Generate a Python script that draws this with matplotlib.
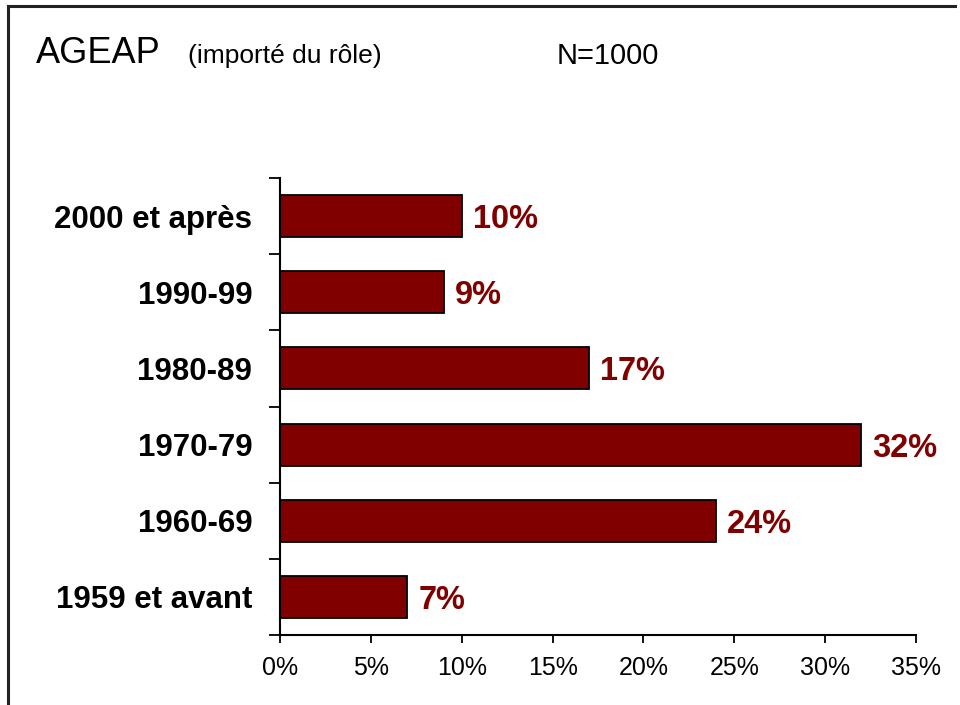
import matplotlib
matplotlib.use("Agg")
import matplotlib.pyplot as plt
from matplotlib.lines import Line2D

plt.rcParams['font.family'] = ['Liberation Sans', 'DejaVu Sans']

# data (bottom to top)
categories = ["1959 et avant", "1960-69", "1970-79", "1980-89", "1990-99", "2000 et après"]
values = [7, 24, 32, 17, 9, 10]
xticks = [0, 5, 10, 15, 20, 25, 30, 35]

bar_color = "#800000"

fig = plt.figure(figsize=(9.6, 7.05), dpi=100)
ax = fig.add_axes([280/960, 1-635/705, 636/960, (635-178)/705])

pos = list(range(len(categories)))
ax.barh(pos, values, height=0.55, color=bar_color, edgecolor="black", linewidth=1.3)

# value labels next to bars
for p, v in zip(pos, values):
    ax.annotate(f"{v}%", (v, p), xytext=(8, 0), textcoords="offset points",
                va="center_baseline", ha="left", fontsize=23.5, fontweight="bold", color=bar_color)

ax.set_xlim(0, 35)
ax.set_ylim(-0.5, 5.5)
ax.set_xticks(xticks)
ax.set_xticklabels([f"{t}%" for t in xticks], fontsize=18)
ax.set_yticks(pos)
ax.set_yticklabels(categories, fontsize=22.5, fontweight="bold")
ax.set_yticks([i - 0.5 for i in range(len(categories) + 1)], minor=True)
ax.tick_params(axis="y", which="major", length=0, pad=20)
ax.tick_params(axis="y", which="minor", length=8, width=1.3, direction="out")
ax.tick_params(axis="x", length=6, width=1.3, direction="out", pad=9)

for s in ["top", "right"]:
    ax.spines[s].set_visible(False)
for s in ["left", "bottom"]:
    ax.spines[s].set_linewidth(1.5)

# frame lines
fig.add_artist(Line2D([8/960, 8/960], [0, 1-6/705], color="#222222", lw=2.2, transform=fig.transFigure))
fig.add_artist(Line2D([8/960, 955/960], [1-6/705, 1-6/705], color="#222222", lw=2.2, transform=fig.transFigure))

# titles
fig.text(36/960, 1-63/705, "AGEAP", fontsize=26, ha="left", va="baseline")
fig.text(188/960, 1-63/705, "(importé du rôle)", fontsize=19, ha="left", va="baseline")
fig.text(557/960, 1-64/705, "N=1000", fontsize=21, ha="left", va="baseline")

fig.savefig("out.png", dpi=100)
